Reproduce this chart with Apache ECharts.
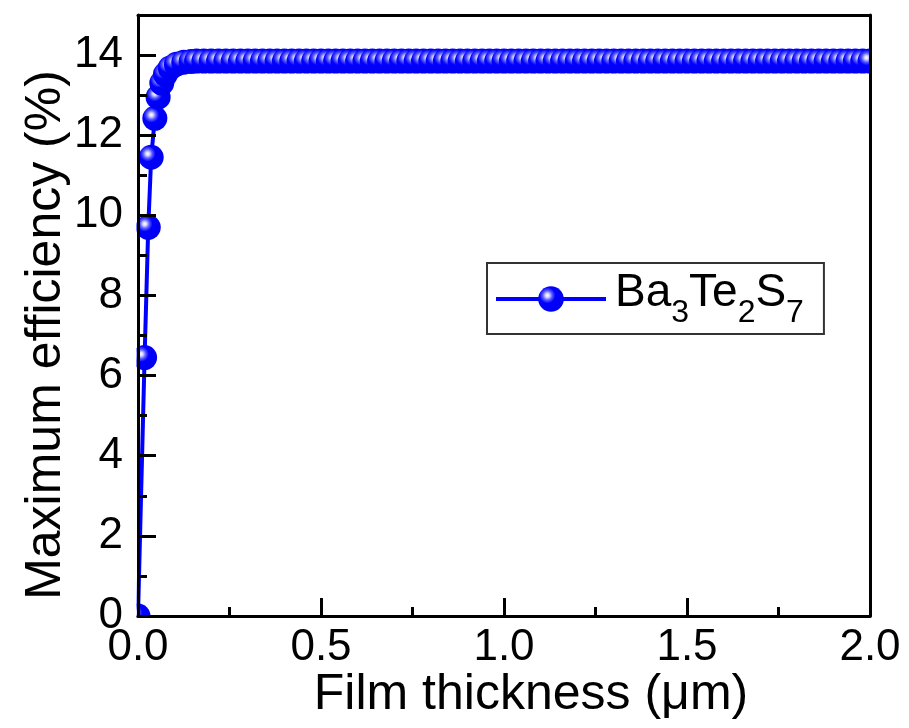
<!DOCTYPE html>
<html>
<head>
<meta charset="utf-8">
<script src="https://cdn.jsdelivr.net/npm/echarts@6/dist/echarts.min.js"></script>
<style>html,body{margin:0;padding:0;background:#fff;}#chart{width:909px;height:728px;}</style>
</head>
<body>
<div id="chart"></div>
<script>
// Film thickness (µm)
var thickness = [0, 0.018, 0.028, 0.036, 0.046, 0.055, 0.065, 0.075, 0.088, 0.105, 0.125, 0.145,
  0.16, 0.18, 0.20, 0.22, 0.24, 0.26, 0.28, 0.30, 0.32, 0.34, 0.36, 0.38, 0.40, 0.42, 0.44, 0.46, 0.48,
  0.50, 0.52, 0.54, 0.56, 0.58, 0.60, 0.62, 0.64, 0.66, 0.68, 0.70, 0.72, 0.74, 0.76, 0.78, 0.80,
  0.82, 0.84, 0.86, 0.88, 0.90, 0.92, 0.94, 0.96, 0.98, 1.00, 1.02, 1.04, 1.06, 1.08, 1.10, 1.12,
  1.14, 1.16, 1.18, 1.20, 1.22, 1.24, 1.26, 1.28, 1.30, 1.32, 1.34, 1.36, 1.38, 1.40, 1.42, 1.44,
  1.46, 1.48, 1.50, 1.52, 1.54, 1.56, 1.58, 1.60, 1.62, 1.64, 1.66, 1.68, 1.70, 1.72, 1.74, 1.76,
  1.78, 1.80, 1.82, 1.84, 1.86, 1.88, 1.90, 1.92, 1.94, 1.96, 1.98, 2.00];
// Maximum efficiency (%)
var efficiency = [0, 6.45, 9.7, 11.45, 12.42, 12.95, 13.3, 13.52, 13.68, 13.77, 13.82, 13.84,
  13.85, 13.85, 13.85, 13.85, 13.85, 13.85, 13.85, 13.85, 13.85, 13.85, 13.85, 13.85, 13.85, 13.85, 13.85, 13.85, 13.85,
  13.85, 13.85, 13.85, 13.85, 13.85, 13.85, 13.85, 13.85, 13.85, 13.85, 13.85, 13.85, 13.85, 13.85, 13.85, 13.85,
  13.85, 13.85, 13.85, 13.85, 13.85, 13.85, 13.85, 13.85, 13.85, 13.85, 13.85, 13.85, 13.85, 13.85, 13.85, 13.85,
  13.85, 13.85, 13.85, 13.85, 13.85, 13.85, 13.85, 13.85, 13.85, 13.85, 13.85, 13.85, 13.85, 13.85, 13.85, 13.85,
  13.85, 13.85, 13.85, 13.85, 13.85, 13.85, 13.85, 13.85, 13.85, 13.85, 13.85, 13.85, 13.85, 13.85, 13.85, 13.85,
  13.85, 13.85, 13.85, 13.85, 13.85, 13.85, 13.85, 13.85, 13.85, 13.85, 13.85, 13.85];
var seriesName = 'Ba3Te2S7';
var xTitle = 'Film thickness (\u03bcm)';
var yTitle = 'Maximum efficiency (%)';

var FONT = '"Liberation Sans", Arial, sans-serif';
var points = thickness.map(function (x, i) { return [x, efficiency[i]]; });
var sphere = {
  type: 'radial', x: 0.36, y: 0.36, r: 0.62,
  colorStops: [
    { offset: 0, color: '#ffffff' },
    { offset: 0.12, color: '#d8d8ff' },
    { offset: 0.3, color: '#5a5aff' },
    { offset: 0.5, color: '#0000ff' },
    { offset: 1, color: '#0000f0' }
  ]
};
var chart = echarts.init(document.getElementById('chart'), null, { renderer: 'canvas' });
var G = { left: 138, right: 39, top: 15, bottom: 112 };
chart.setOption({
  animation: false,
  backgroundColor: '#ffffff',
  grid: { left: G.left, right: G.right, top: G.top, bottom: G.bottom, containLabel: false },
  xAxis: [{
    type: 'value', min: 0, max: 2, interval: 0.5, z: 100,
    axisLine: { show: true, onZero: false, lineStyle: { color: '#000', width: 3 } },
    axisTick: { show: true, inside: true, length: 18, lineStyle: { color: '#000', width: 3 } },
    minorTick: { show: true, splitNumber: 2, length: 9, lineStyle: { color: '#000', width: 3 } },
    splitLine: { show: false },
    axisLabel: { color: '#000', fontSize: 44, fontFamily: FONT, margin: 10,
      formatter: function (v) { return v.toFixed(1); } }
  }, {
    type: 'value', min: 0, max: 2, position: 'top', z: 100,
    axisLine: { show: true, onZero: false, lineStyle: { color: '#000', width: 3 } },
    axisTick: { show: false }, axisLabel: { show: false }, splitLine: { show: false }
  }],
  yAxis: [{
    type: 'value', min: 0, max: 15, interval: 2, z: 100,
    axisLine: { show: true, onZero: false, lineStyle: { color: '#000', width: 3 } },
    axisTick: { show: true, inside: true, length: 18, lineStyle: { color: '#000', width: 3 } },
    minorTick: { show: true, splitNumber: 2, length: 9, lineStyle: { color: '#000', width: 3 } },
    splitLine: { show: false },
    axisLabel: { color: '#000', fontSize: 44, fontFamily: FONT, margin: 15,
      formatter: function (v) { return v > 14 ? '' : String(v); } }
  }, {
    type: 'value', min: 0, max: 15, position: 'right', z: 100,
    axisLine: { show: true, onZero: false, lineStyle: { color: '#000', width: 3 } },
    axisTick: { show: false }, axisLabel: { show: false }, splitLine: { show: false }
  }],
  legend: {
    left: 487, top: 263, orient: 'horizontal',
    backgroundColor: '#fff',
    borderColor: '#333', borderWidth: 2,
    padding: [7, 20, 5, 7],
    itemWidth: 110, itemHeight: 32, itemGap: 0,
    lineStyle: { color: '#0000ff', width: 4 },
    data: [seriesName],
    formatter: function () { return '{m|Ba}{s|3}{m|Te}{s|2}{m|S}{s|7}'; },
    textStyle: {
      color: '#000', fontFamily: FONT, padding: [0, 0, 0, 4],
      rich: {
        m: { fontSize: 46, fontFamily: FONT, color: '#000', lineHeight: 58, verticalAlign: 'top', padding: [0, 0, 0, 0] },
        s: { fontSize: 32, fontFamily: FONT, color: '#000', lineHeight: 32, verticalAlign: 'top', padding: [27, 0, 0, 0] }
      }
    }
  },
  graphic: [
    { type: 'rect', z: 50, shape: { x: 96, y: 15, width: 40.5, height: 640 }, style: { fill: '#fff' } },
    { type: 'rect', z: 50, shape: { x: 96, y: 617.5, width: 110, height: 30 }, style: { fill: '#fff' } },
    { type: 'rect', z: 50, shape: { x: 871.5, y: 15, width: 38, height: 120 }, style: { fill: '#fff' } },
    { type: 'text', z: 120, x: 46, y: 335, rotation: Math.PI / 2,
      style: { text: yTitle, fontSize: 50, fontFamily: FONT, fill: '#000', textAlign: 'center', textVerticalAlign: 'middle' } },
    { type: 'text', z: 120, x: 531, y: 695,
      style: { text: xTitle, fontSize: 50, fontFamily: FONT, fill: '#000', textAlign: 'center', textVerticalAlign: 'middle' } }
  ],
  series: [{
    name: seriesName, type: 'line', data: points, clip: false,
    xAxisIndex: 0, yAxisIndex: 0,
    showAllSymbol: true, symbol: 'circle', symbolSize: 25,
    lineStyle: { color: '#0000ff', width: 4 },
    itemStyle: { color: sphere, borderWidth: 0 },
    emphasis: { disabled: true }
  }]
});
</script>
</body>
</html>
